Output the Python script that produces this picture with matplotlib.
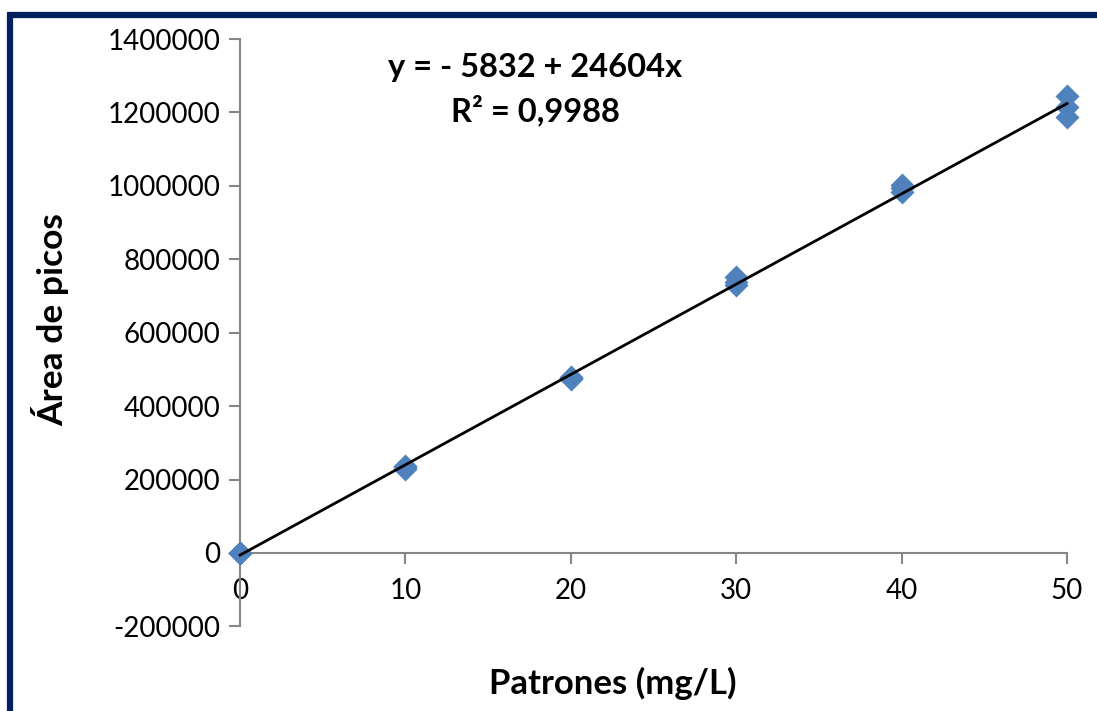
import matplotlib
matplotlib.use("Agg")
from matplotlib import pyplot as plt
from matplotlib.lines import Line2D

plt.rcParams["font.family"] = ["Lato", "DejaVu Sans"]

# Calibration data (triplicates per standard)
patrones = [0, 0, 0, 10, 10, 10, 20, 20, 20, 30, 30, 30, 40, 40, 40, 50, 50, 50]
areas = [0, 0, 0, 230000, 236000, 234000, 473000, 478000, 476000,
         730000, 752000, 738000, 984000, 1003000, 995000, 1188000, 1215000, 1245000]

intercept = -5832
slope = 24604
r2_text = "0,9988"

x_ticks = [0, 10, 20, 30, 40, 50]
y_ticks = [-200000, 0, 200000, 400000, 600000, 800000, 1000000, 1200000, 1400000]

grey = "#868686"
navy = "#002060"
marker_color = "#4F81BD"

fig = plt.figure(figsize=(10.97, 7.11), dpi=100)
ax = fig.add_axes([0.2188, 0.119, 0.7539, 0.8261])

ax.scatter(patrones, areas, marker="D", s=150, color=marker_color, zorder=3,
           linewidths=0, clip_on=False)

# trend line from the fitted equation
fit_x = [0, 50]
fit_y = [intercept + slope * v for v in fit_x]
ax.plot(fit_x, fit_y, color="black", lw=2, zorder=4, clip_on=False)

ax.set_xlim(0, 50)
ax.set_ylim(-200000, 1400000)
ax.set_xticks(x_ticks)
ax.set_yticks(y_ticks)
ax.set_yticklabels([str(v) for v in y_ticks])

ax.spines["top"].set_visible(False)
ax.spines["right"].set_visible(False)
ax.spines["bottom"].set_position(("data", 0))
for s in ("left", "bottom"):
    ax.spines[s].set_color(grey)
    ax.spines[s].set_linewidth(1.5)
ax.tick_params(axis="both", colors=grey, width=1.5, length=8, labelcolor="black",
               labelsize=20)
ax.tick_params(axis="x", pad=10)
ax.tick_params(axis="y", pad=6)

fig.text(0.046, 0.55, "Área de picos", rotation=90, ha="center", va="center",
         fontsize=25.5, fontweight="bold")
fig.text(0.559, 0.039, "Patrones (mg/L)", ha="center", va="center",
         fontsize=25, fontweight="bold")

fig.text(0.488, 0.905, f"y = - {abs(intercept)} + {slope}x", ha="center", va="center",
         fontsize=23.5, fontweight="bold")
fig.text(0.488, 0.845, f"R² = {r2_text}", ha="center", va="center",
         fontsize=23.5, fontweight="bold")

# frame border on left and top
fig.add_artist(Line2D([0.0087, 0.0087], [0, 0.981], color=navy, lw=4.5,
                      transform=fig.transFigure, solid_capstyle="butt"))
fig.add_artist(Line2D([0.0066, 1.0], [0.9795, 0.9795], color=navy, lw=4.5,
                      transform=fig.transFigure, solid_capstyle="butt"))

fig.savefig("out.png", dpi=100)
